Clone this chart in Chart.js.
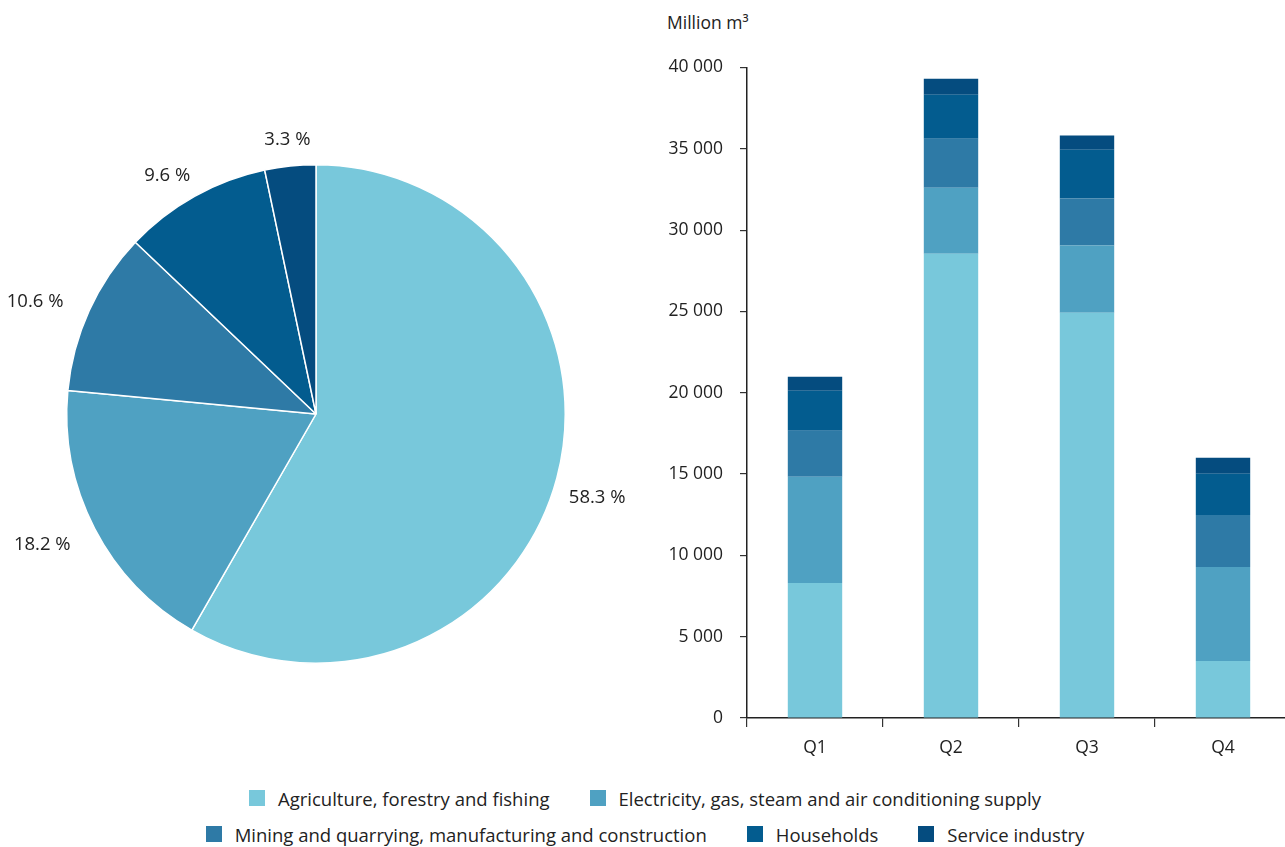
<!DOCTYPE html>
<html>
<head>
<meta charset="utf-8">
<script src="https://cdn.jsdelivr.net/npm/chart.js@4.4.0/dist/chart.umd.min.js"></script>
<style>
  html, body { margin: 0; padding: 0; background: #fff; overflow: hidden; }
  body { width: 1285px; height: 847px; position: relative; font-family: 'Open Sans', sans-serif; color: #222; }
  #pieWrap { position: absolute; left: 0; top: 84px; width: 700px; height: 660px; }
  #barWrap { position: absolute; left: 601px; top: 40px; width: 690px; height: 738px; }
  #unit { position: absolute; left: 667px; top: 10px; font-size: 17.5px; }
  #legend { position: absolute; left: 0; top: 780px; width: 1290px; font-size: 18.5px; }
  .row { display: flex; justify-content: center; height: 36px; align-items: center; }
  .item { display: flex; align-items: center; margin: 0 20px; }
  .sw { width: 16px; height: 16px; margin-right: 13px; }
</style>
</head>
<body>
<div id="unit">Million m³</div>
<div id="pieWrap"><canvas id="pieChart"></canvas></div>
<div id="barWrap"><canvas id="barChart"></canvas></div>
<div id="legend"></div>
<script>
const sectors = [
  'Agriculture, forestry and fishing',
  'Electricity, gas, steam and air conditioning supply',
  'Mining and quarrying, manufacturing and construction',
  'Households',
  'Service industry'
];
const colors = ['#78c8db', '#4fa1c2', '#2e7aa6', '#035c8f', '#054c7f'];
const shares = [58.3, 18.2, 10.6, 9.6, 3.3];
const quarters = ['Q1', 'Q2', 'Q3', 'Q4'];
const agriculture = [8300, 28550, 24920, 3510];
const electricity = [6530, 4060, 4130, 5780];
const mining = [2830, 3010, 2890, 3200];
const households = [2460, 2710, 3010, 2530];
const service = [860, 980, 870, 980];
const yTicks = [0, 5000, 10000, 15000, 20000, 25000, 30000, 35000, 40000];

const fmt = v => String(v).replace(/\B(?=(\d{3})+(?!\d))/g, ' ');
const fam = "'Open Sans', sans-serif";
const tickFont = { family: fam, size: 17.5 };

// Legend (shared by both charts)
const legend = document.getElementById('legend');
[[0, 1], [2, 3, 4]].forEach(idx => {
  const row = document.createElement('div');
  row.className = 'row';
  idx.forEach(i => {
    const it = document.createElement('div');
    it.className = 'item';
    it.innerHTML = `<span class="sw" style="background:${colors[i]}"></span><span>${sectors[i]}</span>`;
    row.appendChild(it);
  });
  legend.appendChild(row);
});

// Pie labels outside the slices
const pieLabels = {
  id: 'pieLabels',
  afterDatasetsDraw(chart) {
    const ctx = chart.ctx;
    const meta = chart.getDatasetMeta(0);
    ctx.save();
    ctx.font = `18.5px ${fam}`;
    ctx.fillStyle = '#222';
    ctx.textAlign = 'center';
    ctx.textBaseline = 'middle';
    meta.data.forEach((arc, i) => {
      const txt = shares[i].toFixed(1) + ' %';
      const mid = (arc.startAngle + arc.endAngle) / 2;
      const dx = Math.cos(mid), dy = Math.sin(mid);
      const side = Math.abs(dx) > 0.3;
      const r = arc.outerRadius + 24 + 28 * Math.abs(dx);
      const x = arc.x + dx * r - (side ? 9 : 0);
      const y = arc.y + dy * r + (dy < 0 ? (side ? 12 : 0) : 7 * dx);
      ctx.fillText(txt, x, y);
    });
    ctx.restore();
  }
};

new Chart(document.getElementById('pieChart'), {
  type: 'pie',
  data: {
    labels: sectors,
    datasets: [{
      data: shares,
      backgroundColor: colors,
      borderColor: '#fff',
      borderWidth: 1.5
    }]
  },
  options: {
    responsive: true,
    maintainAspectRatio: false,
    animation: false,
    layout: { padding: { left: 66, right: 134, top: 80, bottom: 80 } },
    plugins: { legend: { display: false }, tooltip: { enabled: false } }
  },
  plugins: [pieLabels]
});

const barSeries = [agriculture, electricity, mining, households, service];

new Chart(document.getElementById('barChart'), {
  type: 'bar',
  data: {
    labels: quarters,
    datasets: barSeries.map((d, i) => ({
      label: sectors[i],
      data: d,
      backgroundColor: colors[i],
      borderWidth: 0,
      barPercentage: 0.4,
      categoryPercentage: 1
    }))
  },
  options: {
    responsive: true,
    maintainAspectRatio: false,
    animation: false,
    layout: { padding: { top: 10, right: 0, left: 0, bottom: 0 } },
    plugins: { legend: { display: false }, tooltip: { enabled: false } },
    scales: {
      x: {
        stacked: true,
        afterFit: s => { s.height = 60; },
        grid: { offset: true, drawOnChartArea: false, drawTicks: true, tickLength: 9, color: '#333', lineWidth: 1.2 },
        border: { color: '#222', width: 1.5 },
        ticks: { color: '#222', font: tickFont, padding: 11 }
      },
      y: {
        stacked: true,
        min: 0,
        max: 40000,
        afterFit: s => { s.width = 146; },
        afterBuildTicks: s => { s.ticks = yTicks.map(v => ({ value: v })); },
        grid: { drawOnChartArea: false, drawTicks: true, tickLength: 7, color: '#333', lineWidth: 1.2 },
        border: { color: '#222', width: 1.5 },
        ticks: { color: '#222', font: tickFont, padding: 17, callback: v => fmt(v) }
      }
    }
  }
});
</script>
</body>
</html>
